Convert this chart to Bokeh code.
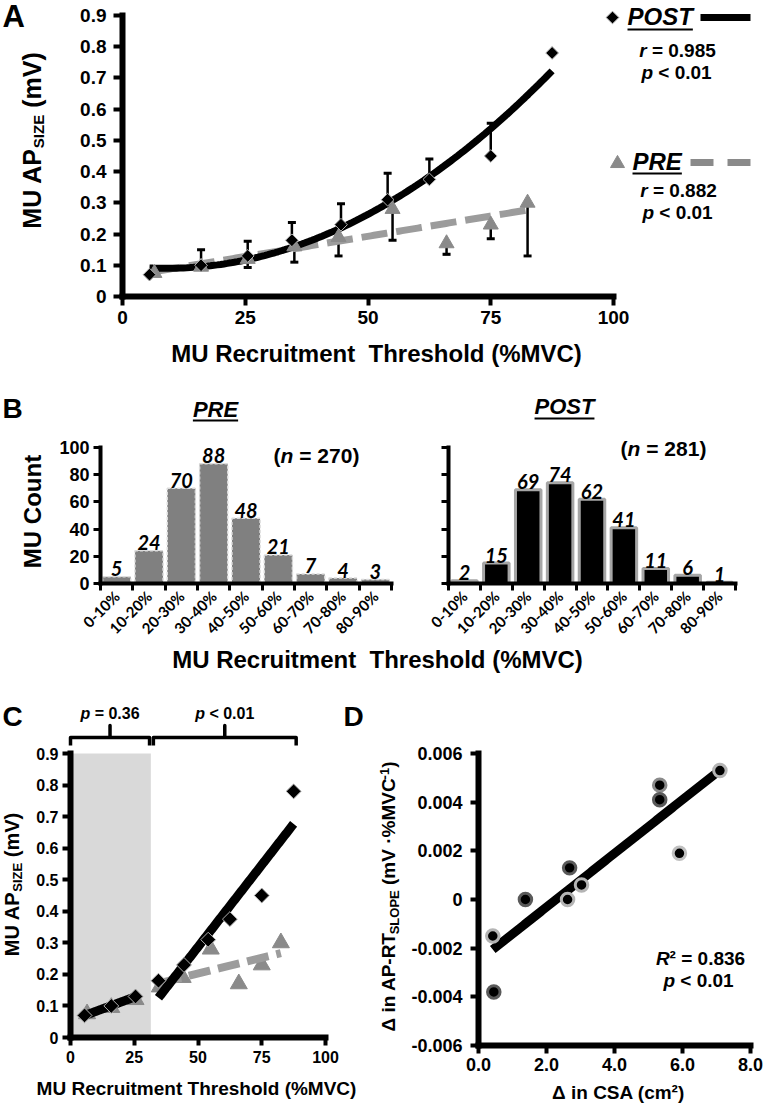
import numpy as np
from bokeh.plotting import figure
from bokeh.models import (Range1d, FixedTicker, CustomJSTickFormatter, Label, Whisker,
                          TeeHead, ColumnDataSource)
from bokeh.layouts import column, row
from bokeh.embed import file_html
from bokeh.resources import INLINE
from bokeh.core.properties import value

# ---------------- data ----------------
# Panels A and C: MU action-potential size vs recruitment threshold
post_rt = [5.5, 16, 25.5, 34.5, 44.5, 54, 62.5, 75, 87.5]
post_ap = [0.07, 0.10, 0.13, 0.18, 0.23, 0.31, 0.375, 0.45, 0.78]
post_sd = [0.0, 0.05, 0.047, 0.057, 0.067, 0.085, 0.065, 0.105, 0.0]
pre_rt = [6.5, 16, 25.5, 35, 44, 55, 66, 75, 82.5]
pre_ap = [0.075, 0.095, 0.12, 0.16, 0.19, 0.28, 0.17, 0.23, 0.30]
pre_sd = [0.0, 0.0, 0.027, 0.05, 0.06, 0.10, 0.035, 0.045, 0.17]
post_r, post_p = "0.985", "0.01"
pre_r, pre_p = "0.882", "0.01"
a_xticks = [0, 25, 50, 75, 100]
a_yticks = [0, 0.1, 0.2, 0.3, 0.4, 0.5, 0.6, 0.7, 0.8, 0.9]

# Panel B: MU count per recruitment-threshold bin
rt_bins = ["0-10%", "10-20%", "20-30%", "30-40%", "40-50%", "50-60%", "60-70%", "70-80%", "80-90%"]
pre_counts = [5, 24, 70, 88, 48, 21, 7, 4, 3]
post_counts = [2, 15, 69, 74, 62, 41, 11, 6, 1]
pre_n, post_n = 270, 281
b_yticks = [0, 20, 40, 60, 80, 100]

# Panel C: low / high threshold groups
split_rt = 31.5
low_group = (0, 31)
high_group = (32.5, 88.5)
low_p, high_p = "= 0.36", "< 0.01"

# Panel D
d_csa = [0.42, 0.45, 1.38, 2.62, 2.68, 3.03, 5.33, 5.33, 5.91, 7.10]
d_slope = [-0.0015, -0.0038, 0.0, 0.0, 0.0013, 0.0006, 0.0047, 0.0041, 0.0019, 0.0053]
d_r2, d_p = "0.836", "0.01"
d_xticks = [0, 2, 4, 6, 8]
d_yticks = [-0.006, -0.004, -0.002, 0, 0.002, 0.004, 0.006]

# ---------------- style ----------------
ARIAL = "Liberation Sans"
CAL = "Lato"
TRI = "#8a8a8a"
DASHC = "#9c9c9c"
ring_colors = ["#b4b4b4", "#5a5a5a", "#5a5a5a", "#b4b4b4", "#5a5a5a",
               "#b4b4b4", "#8a8a8a", "#5a5a5a", "#c0c0c0", "#b4b4b4"]

AW = {' ': .278, '(': .333, ')': .333, '-': .333, '.': .278, '=': .584, '<': .584, '%': .889,
      '·': .278, '²': .333, 'Δ': .612, '\u00a0': .278,
      'A': .722, 'C': .722, 'E': .667, 'I': .278, 'L': .611, 'M': .833, 'O': .778, 'P': .667,
      'R': .722, 'S': .667, 'T': .611, 'U': .722, 'V': .667, 'Z': .611,
      'a': .556, 'c': .556, 'd': .611, 'e': .556, 'h': .611, 'i': .278, 'l': .278, 'm': .889,
      'n': .611, 'o': .611, 'p': .611, 'r': .389, 's': .556, 't': .333, 'u': .611}
for _d in "0123456789":
    AW[_d] = .556


def tw(s, size):
    return sum(AW.get(c, .6) for c in s) * size


class G:
    """Figure occupying page box (pl, pt, W, H); page pixel X0 <-> data xv0, X1 <-> xv1 etc."""
    def __init__(s, pl, pt, W, H, X0, xv0, X1, xv1, Y0, yv0, Y1, yv1):
        s.pl, s.pt, s.W, s.H = pl, pt, W, H
        s.X0, s.xv0, s.kx = X0, xv0, (xv1 - xv0) / (X1 - X0)
        s.Y0, s.yv0, s.ky = Y0, yv0, (yv1 - yv0) / (Y0 - Y1)

    def x(s, X):
        return s.xv0 + (X - s.X0) * s.kx

    def y(s, Y):
        return s.yv0 + (s.Y0 - Y) * s.ky

    def X(s, x):
        return s.X0 + (x - s.xv0) / s.kx


def make_fig(g):
    p = figure(width=g.W, height=g.H,
               x_range=Range1d(g.x(g.pl), g.x(g.pl + g.W)),
               y_range=Range1d(g.y(g.pt + g.H), g.y(g.pt)),
               min_border=0, output_backend="svg", toolbar_location=None, tools="")
    p.outline_line_color = None
    p.grid.visible = False
    p.border_fill_color = "white"
    p.background_fill_color = "white"
    return p


def style_axis(ax, size, tick_out, standoff, lw=6, font=ARIAL, tick_w=4):
    ax.fixed_location = 0
    ax.axis_line_width = lw
    ax.axis_line_color = "black"
    ax.axis_line_cap = "square"
    ax.major_tick_line_width = tick_w
    ax.major_tick_line_color = "black"
    ax.major_tick_out = tick_out
    ax.major_tick_in = 0
    ax.minor_tick_line_color = None
    ax.major_label_text_font = font
    ax.major_label_text_font_style = "bold"
    ax.major_label_text_font_size = f"{size}px"
    ax.major_label_text_color = "black"
    ax.major_label_standoff = standoff


def lab(p, g, X, Y, text, size, style="bold", align="left", angle=0.0, font=ARIAL):
    """Y (or X when rotated) is the centre line of the text"""
    p.add_layout(Label(x=g.x(X), y=g.y(Y), text=text, text_font=font,
                       text_font_size=f"{size}px", text_font_style=style,
                       text_align=align, text_baseline="middle", angle=angle,
                       text_color="black"))


def hruns(p, g, Xc, Yc, pieces):
    total = sum(tw(t, s) for t, s, st, d in pieces)
    X = Xc - total / 2
    for t, s, st, d in pieces:
        lead = t[:len(t) - len(t.lstrip())]
        lab(p, g, X + tw(lead, s), Yc + d, t.strip(), s, st)
        X += tw(t, s)


def vruns(p, g, Xc, Yc, pieces):
    total = sum(tw(t, s) for t, s, st, d in pieces)
    Y = Yc + total / 2
    for t, s, st, d in pieces:
        lead = t[:len(t) - len(t.lstrip())]
        lab(p, g, Xc + d, Y - tw(lead, s), t.strip(), s, st, angle=np.pi / 2)
        Y -= tw(t, s)


def hline(p, g, X0, X1, Y, **kw):
    p.line([g.x(X0), g.x(X1)], [g.y(Y)] * 2, **kw)


def fit(xs, ys, deg, n=120):
    c = np.polyfit(xs, ys, deg)
    xx = np.linspace(min(xs), max(xs), n)
    return xx, np.polyval(c, xx)


fmt1 = CustomJSTickFormatter(code="return tick == 0 ? '0' : tick.toFixed(1);")
fmt1b = CustomJSTickFormatter(code="return tick.toFixed(1);")
fmt3 = CustomJSTickFormatter(code="return Math.abs(tick) < 1e-9 ? '0' : tick.toFixed(3);")
fmt_blank = CustomJSTickFormatter(code="return '';")

# ================= Panel A =================
gA = G(0, 0, 763, 372, 122, 0, 613, 100, 296, 0, 15, 0.9)
pA = make_fig(gA)
axx, axy = pA.xaxis[0], pA.yaxis[0]
axx.ticker = FixedTicker(ticks=a_xticks)
axx.bounds = (0, 100)
style_axis(axx, 19, 9, 5)
axy.ticker = FixedTicker(ticks=a_yticks)
axy.bounds = (0, 0.9)
axy.formatter = fmt1
style_axis(axy, 19, 9, 7)

xx, yy = fit(pre_rt, pre_ap, 1)
pA.line(xx, yy, line_width=7, color=DASHC, line_dash="26 9")
xx, yy = fit(post_rt, post_ap, 2)
pA.line(xx, yy, line_width=7, color="black")

sp = ColumnDataSource(dict(x=[x for x, e in zip(post_rt, post_sd) if e > 0],
                           lo=[y for y, e in zip(post_ap, post_sd) if e > 0],
                           hi=[y + e for y, e in zip(post_ap, post_sd) if e > 0]))
pA.add_layout(Whisker(source=sp, base="x", lower="lo", upper="hi", dimension="height",
                      line_width=2.5, line_color="black",
                      upper_head=TeeHead(size=8, line_width=3, line_color="black"), lower_head=None))
sq = ColumnDataSource(dict(x=[x for x, e in zip(pre_rt, pre_sd) if e > 0],
                           lo=[y - e for y, e in zip(pre_ap, pre_sd) if e > 0],
                           hi=[y for y, e in zip(pre_ap, pre_sd) if e > 0]))
pA.add_layout(Whisker(source=sq, base="x", lower="lo", upper="hi", dimension="height",
                      line_width=2.5, line_color="black",
                      lower_head=TeeHead(size=8, line_width=3, line_color="black"), upper_head=None))
pA.scatter(pre_rt, pre_ap, marker="triangle", size=15, fill_color=TRI, line_color=TRI)
pA.scatter(post_rt, post_ap, marker="square", angle=np.pi / 4, size=9, fill_color="black",
           line_color="#b0b0b0", line_width=1)

# legend
pA.scatter([gA.x(612)], [gA.y(17)], marker="square", angle=np.pi / 4, size=9,
           fill_color="black", line_color="#b0b0b0", line_width=1)
lab(pA, gA, 627, 16, "POST", 24, "bold italic")
hline(pA, gA, 627, 627 + tw("POST", 24), 29, line_width=2, color="black")
hline(pA, gA, 700, 750, 17, line_width=7, color="black")
hruns(pA, gA, 677, 50, [("r", 19, "bold italic", 0), (" = " + post_r, 19, "bold", 0)])
hruns(pA, gA, 676, 72, [("p", 19, "bold italic", 0), (" < " + post_p, 19, "bold", 0)])
pA.scatter([gA.x(617)], [gA.y(163)], marker="triangle", size=14, fill_color=TRI, line_color=TRI)
lab(pA, gA, 632, 161, "PRE", 24, "bold italic")
hline(pA, gA, 632, 632 + tw("PRE", 24), 173, line_width=2, color="black")
hline(pA, gA, 690, 753, 162, line_width=7, color=TRI, line_dash="23 14")
hruns(pA, gA, 678, 190, [("r", 19, "bold italic", 0), (" = " + pre_r, 19, "bold", 0)])
hruns(pA, gA, 677, 212, [("p", 19, "bold italic", 0), (" < " + pre_p, 19, "bold", 0)])

lab(pA, gA, 2, 16, "A", 31)
vruns(pA, gA, 31, 140, [("MU AP", 25, "bold", 0), ("SIZE", 15, "bold", 7), (" (mV)", 25, "bold", 0)])
lab(pA, gA, 376, 353, "MU Recruitment \u00a0Threshold (%MVC)", 24, align="center")

# ================= Panel B =================
centers = [i + 0.5 for i in range(len(rt_bins))]
bounds_ticks = list(range(len(rt_bins) + 1))
bin_fmt = CustomJSTickFormatter(args=dict(labels=rt_bins),
                                code="return labels[Math.floor(tick)];")


def hist_fig(g, counts, fill, line, lw, dash, width, show_y):
    p = make_fig(g)
    ax = p.xaxis[0]
    ax.ticker = FixedTicker(ticks=centers, minor_ticks=bounds_ticks)
    ax.formatter = bin_fmt
    ax.bounds = (0, len(counts))
    style_axis(ax, 15, 7, 3, lw=4, font=CAL)
    ax.major_tick_line_color = None
    ax.minor_tick_line_color = "black"
    ax.minor_tick_line_width = 3
    ax.minor_tick_out = 7
    ax.minor_tick_in = 0
    ax.major_label_orientation = np.pi / 4
    ay = p.yaxis[0]
    ay.ticker = FixedTicker(ticks=b_yticks)
    ay.bounds = (0, 100)
    style_axis(ay, 18, 7, 4, lw=4, tick_w=3)
    if not show_y:
        ay.formatter = fmt_blank
    p.vbar(x=centers, top=counts, width=width, fill_color=fill, line_color=line,
           line_width=lw, line_dash=dash)
    p.text(x=centers, y=counts, text=[str(c) for c in counts], text_font=value(CAL),
           text_font_style="bold italic", text_font_size="20px", text_align="center",
           text_baseline="alphabetic", y_offset=-8, text_color="black")
    return p


gP = G(0, 372, 420, 270, 100, 0, 391, 9, 583, 0, 447, 100)
gQ = G(420, 372, 343, 270, 448, 0, 735, 9, 583, 0, 447, 100)
pP = hist_fig(gP, pre_counts, "#808080", "#dcdcdc", 1.5, "3 2", 0.87, True)
pQ = hist_fig(gQ, post_counts, "black", "#a6a6a6", 3, "solid", 0.8, False)

lab(pP, gP, 2, 408, "B", 28)
lab(pP, gP, 215, 409, "PRE", 22, "bold italic", align="center")
hline(pP, gP, 215 - tw("PRE", 22) / 2, 215 + tw("PRE", 22) / 2, 420, line_width=2, color="black")
lab(pP, gP, 32, 511, "MU Count", 24, align="center", angle=np.pi / 2)
hruns(pP, gP, 316, 455, [("(", 21, "bold", 0), ("n", 21, "bold italic", 0),
                         (" = %d)" % pre_n, 21, "bold", 0)])

lab(pQ, gQ, 564, 406, "POST", 22, "bold italic", align="center")
hline(pQ, gQ, 564 - tw("POST", 22) / 2, 564 + tw("POST", 22) / 2, 418, line_width=2, color="black")
hruns(pQ, gQ, 663, 448, [("(", 21, "bold", 0), ("n", 21, "bold italic", 0),
                         (" = %d)" % post_n, 21, "bold", 0)])

gS = G(0, 642, 763, 38, 0, 0, 763, 763, 680, 0, 642, 38)
pS = make_fig(gS)
pS.xaxis.visible = False
pS.yaxis.visible = False
lab(pS, gS, 377, 659, "MU Recruitment \u00a0Threshold (%MVC)", 24, align="center")

# ================= Panel C =================
CW = 370
gC = G(0, 680, CW, 425, 70, 0, 325, 100, 1037, 0, 753, 0.9)
pC = make_fig(gC)
cx, cy = pC.xaxis[0], pC.yaxis[0]
cx.ticker = FixedTicker(ticks=a_xticks)
cx.bounds = (0, 100)
style_axis(cx, 16, 8, 5)
cy.ticker = FixedTicker(ticks=a_yticks)
cy.bounds = (0, 0.9)
cy.formatter = fmt1
style_axis(cy, 16, 8, 4)

pC.quad(left=[0], right=[split_rt], bottom=[0], top=[0.9], fill_color="#d9d9d9", line_color=None,
        level="underlay")

lo_x = [x for x in post_rt if x < split_rt]
lo_y = [y for x, y in zip(post_rt, post_ap) if x < split_rt]
hi_x = [x for x in post_rt if x > split_rt]
hi_y = [y for x, y in zip(post_rt, post_ap) if x > split_rt]
pr_x = [x for x in pre_rt if x > split_rt]
pr_y = [y for x, y in zip(pre_rt, pre_ap) if x > split_rt]

pC.scatter(pre_rt, pre_ap, marker="triangle", size=17, fill_color=TRI, line_color=TRI)
xx, yy = fit(pr_x, pr_y, 1)
pC.line(xx, yy, line_width=8, color=DASHC, line_dash="22 8")
xx, yy = fit(lo_x, lo_y, 1)
pC.line(xx, yy, line_width=9, color="black")
xx, yy = fit(hi_x, hi_y, 1)
pC.line(xx, yy, line_width=9, color="black")
pC.scatter(post_rt, post_ap, marker="square", angle=np.pi / 4, size=10.5, fill_color="black",
           line_color="#b0b0b0", line_width=1)

yb, yt, yn = gC.y(745), gC.y(737), gC.y(725)
for (a, b), ptxt in ((low_group, low_p), (high_group, high_p)):
    m = (a + b) / 2
    pC.line([a, a, m, m, m, b, b], [yb, yt, yt, yn, yt, yt, yb], line_width=3.5,
            color="black", line_join="round")
    hruns(pC, gC, gC.X(m), 713, [("p", 16, "bold italic", 0), (" " + ptxt, 16, "bold", 0)])

lab(pC, gC, 2, 716, "C", 28)
lab(pC, gC, 343, 716, "D", 28)
vruns(pC, gC, 11, 884, [("MU AP", 20, "bold", 0), ("SIZE", 13, "bold", 6), (" (mV)", 20, "bold", 0)])
lab(pC, gC, 196, 1088, "MU Recruitment Threshold (%MVC)", 19, align="center")

# ================= Panel D =================
gD = G(CW, 680, 763 - CW, 425, 478, 0, 750, 8, 1045, -0.006, 753, 0.006)
pD = make_fig(gD)
dx_, dy_ = pD.xaxis[0], pD.yaxis[0]
dx_.ticker = FixedTicker(ticks=d_xticks)
dx_.formatter = fmt1b
dx_.bounds = (0, 8)
style_axis(dx_, 18, 8, 4)
dx_.fixed_location = -0.006
dy_.ticker = FixedTicker(ticks=d_yticks)
dy_.formatter = fmt3
dy_.bounds = (-0.006, 0.006)
style_axis(dy_, 18, 8, 8)

xx, yy = fit(d_csa, d_slope, 1)
pD.line(xx, yy, line_width=9, color="black")
pD.scatter(d_csa, d_slope, marker="circle", size=12.5, fill_color="black",
           line_color=ring_colors, line_width=3)

vruns(pD, gD, 388, 896, [("Δ in AP-RT", 19, "bold", 0), ("SLOPE", 13, "bold", 6),
                         (" (mV ·%MVC", 19, "bold", 0), ("-1", 13, "bold", -4), (")", 19, "bold", 0)])
lab(pD, gD, 618, 1092, "Δ in CSA (cm²)", 19, align="center")
hruns(pD, gD, 700, 958, [("R", 19, "bold italic", 0), ("²", 19, "bold", 0),
                         (" = " + d_r2, 19, "bold", 0)])
hruns(pD, gD, 698, 980, [("p", 19, "bold italic", 0), (" < " + d_p, 19, "bold", 0)])

layout = column(pA, row(pP, pQ), pS, row(pC, pD))
open("out.html", "w").write(file_html(layout, INLINE))
